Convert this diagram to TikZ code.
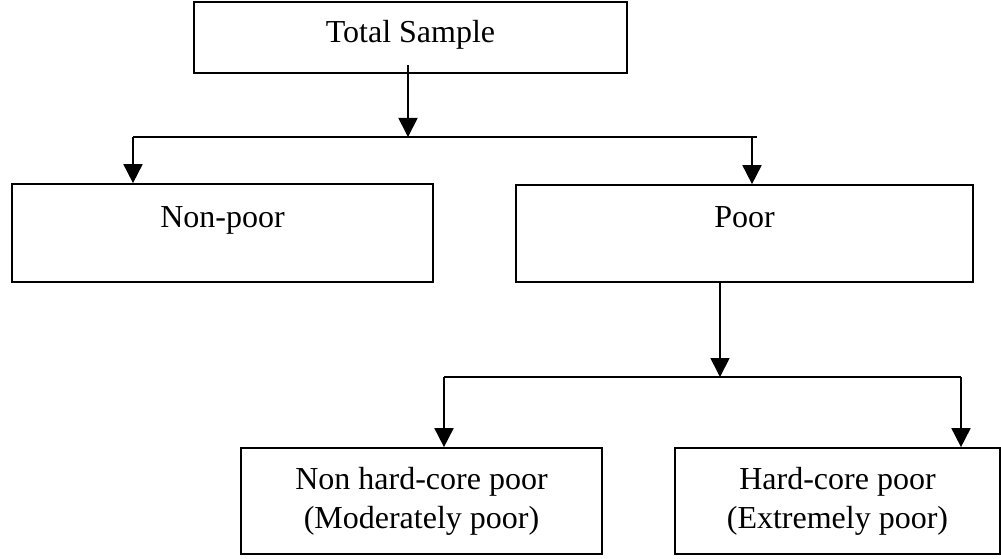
\documentclass[tikz,border=0pt]{standalone}
\usepackage{fontspec}
\setmainfont{Liberation Serif}
\usetikzlibrary{arrows.meta}
\tikzset{
  box/.style={draw, line width=1.7pt, inner sep=0pt, align=center, font=\fontsize{32}{39}\selectfont},
  arr/.style={line width=1.8pt, -{Triangle[length=19pt,width=19pt]}},
  ln/.style={line width=1.5pt},
}
\begin{document}
\begin{tikzpicture}[x=1pt,y=-1pt]
\useasboundingbox (0,0) rectangle (1001,559);
\node[box, minimum width=433pt, minimum height=71pt, text height=22pt, text depth=11pt] (ts) at (410.5,37.5) {Total Sample};
\node[box, minimum width=421pt, minimum height=98pt, text height=22pt, text depth=34pt] (np) at (222.5,233) {Non-poor};
\node[box, minimum width=457pt, minimum height=97pt, text height=22pt, text depth=34pt] (po) at (744.5,233.5) {Poor};
\node[box, minimum width=361pt, minimum height=106pt] (nh) at (421.5,501) {Non hard-core poor\\(Moderately poor)};
\node[box, minimum width=325pt, minimum height=106pt] (hc) at (837.5,501) {Hard-core poor\\(Extremely poor)};
% junctions
\coordinate (tsout) at (408,65);
\coordinate (j1) at (408,137);
\coordinate (j1L) at (133,137);
\coordinate (j1R) at (757,137);
\coordinate (j1P) at (752,137);
\coordinate (poout) at (720,282);
\coordinate (j2) at (720,377);
\coordinate (j2L) at (444,377);
\coordinate (j2R) at (961,377);
% connectors
\draw[arr] (tsout) -- (j1);
\draw[ln] (j1L) -- (j1R);
\draw[arr] (j1L) -- (j1L |- np.north);
\draw[arr] (j1P) -- (j1P |- po.north);
\draw[arr] (poout) -- (j2);
\draw[ln] (j2L) -- (j2R);
\draw[arr] (j2L) -- (j2L |- nh.north);
\draw[arr] (j2R) -- (j2R |- hc.north);
\end{tikzpicture}
\end{document}
